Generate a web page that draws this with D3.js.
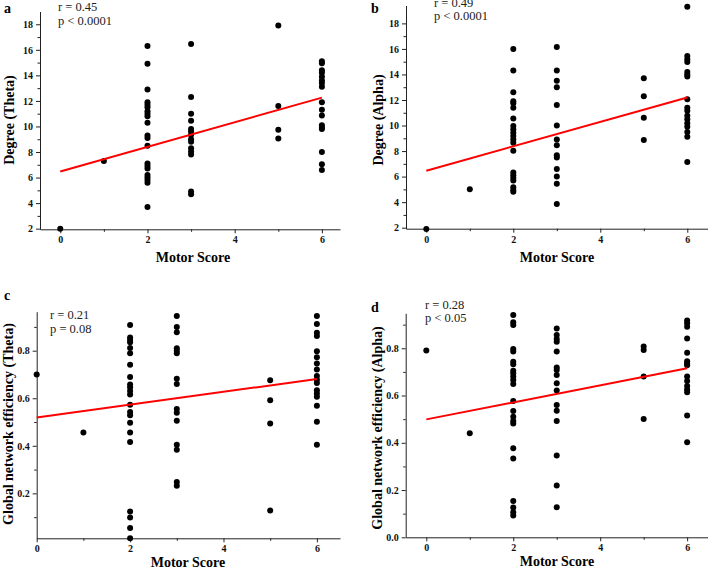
<!DOCTYPE html>
<html>
<head>
<meta charset="utf-8">
<script src="https://cdn.jsdelivr.net/npm/d3@7"></script>
<style>
  html, body { margin: 0; padding: 0; background: #fff; }
  svg { display: block; }
  .tick text { font-family: "Liberation Serif", "Times New Roman", serif; font-weight: bold; font-size: 10px; fill: #111; }
</style>
</head>
<body>
<svg id="chart" width="708" height="571"></svg>
<script>
// ---------- DATA ----------
const motorTicks = [0, 2, 4, 6];
const motorMinorTicks = [1, 3, 5];
const degreeTicks = [2, 4, 6, 8, 10, 12, 14, 16, 18];
const degreeMinorTicks = [3, 5, 7, 9, 11, 13, 15, 17];
const effTicksC = [0.2, 0.4, 0.6, 0.8];
const effTicksD = [0.0, 0.2, 0.4, 0.6, 0.8];
const effMinorTicks = [0.1, 0.3, 0.5, 0.7, 0.9];

// [motor score, value]
const degreeTheta = [
  [0, 2.0], [1, 7.3],
  [2, 16.3], [2, 14.9], [2, 12.9], [2, 11.9], [2, 11.7], [2, 11.5], [2, 11.2], [2, 11.0], [2, 10.8], [2, 10.3],
  [2, 9.3], [2, 9.1], [2, 8.5], [2, 7.1], [2, 6.9], [2, 6.7], [2, 6.2], [2, 6.0], [2, 5.8], [2, 5.6], [2, 3.7],
  [3, 16.45], [3, 12.3], [3, 11.0], [3, 10.45], [3, 9.8], [3, 9.6], [3, 9.35], [3, 9.0], [3, 8.8], [3, 8.3],
  [3, 8.05], [3, 7.8], [3, 4.9], [3, 4.7],
  [5, 17.9], [5, 11.6], [5, 9.75], [5, 9.05],
  [6, 15.1], [6, 14.95], [6, 14.4], [6, 14.2], [6, 13.9], [6, 13.6], [6, 13.4], [6, 13.1], [6, 11.9], [6, 11.3],
  [6, 10.85], [6, 10.1], [6, 9.9], [6, 9.8], [6, 8.0], [6, 7.05], [6, 6.6]
];
const degreeAlpha = [
  [0, 1.9], [1, 5.0],
  [2, 16.0], [2, 14.3], [2, 12.6], [2, 11.9], [2, 11.75], [2, 11.4], [2, 10.56], [2, 9.96], [2, 9.7], [2, 9.44],
  [2, 9.18], [2, 8.9], [2, 8.66], [2, 8.03], [2, 6.33], [2, 6.1], [2, 5.9], [2, 5.7], [2, 5.16], [2, 4.95], [2, 4.82],
  [3, 16.15], [3, 14.3], [3, 13.5], [3, 13.0], [3, 11.6], [3, 10.0], [3, 8.9], [3, 8.45], [3, 7.67], [3, 7.5],
  [3, 6.6], [3, 6.0], [3, 5.45], [3, 3.85],
  [5, 13.7], [5, 12.3], [5, 10.6], [5, 8.87],
  [6, 19.3], [6, 15.45], [6, 15.2], [6, 14.97], [6, 14.2], [6, 14.0], [6, 13.83], [6, 12.05], [6, 11.4], [6, 11.16],
  [6, 10.77], [6, 10.5], [6, 10.17], [6, 9.9], [6, 9.5], [6, 9.13], [6, 7.14]
];
const effTheta = [
  [0, 0.70], [1, 0.456],
  [2, 0.908], [2, 0.856], [2, 0.845], [2, 0.835], [2, 0.811], [2, 0.789], [2, 0.741], [2, 0.689], [2, 0.658],
  [2, 0.646], [2, 0.630], [2, 0.616], [2, 0.573], [2, 0.542], [2, 0.529], [2, 0.497], [2, 0.456], [2, 0.416],
  [2, 0.124], [2, 0.099], [2, 0.054], [2, 0.011],
  [3, 0.946], [3, 0.900], [3, 0.878], [3, 0.810], [3, 0.800], [3, 0.789], [3, 0.682], [3, 0.660], [3, 0.555],
  [3, 0.539], [3, 0.505], [3, 0.404], [3, 0.383], [3, 0.248], [3, 0.232],
  [5, 0.676], [5, 0.592], [5, 0.494], [5, 0.128],
  [6, 0.946], [6, 0.912], [6, 0.875], [6, 0.862], [6, 0.798], [6, 0.772], [6, 0.746], [6, 0.721], [6, 0.694],
  [6, 0.678], [6, 0.664], [6, 0.634], [6, 0.620], [6, 0.606], [6, 0.568], [6, 0.501], [6, 0.404]
];
const effAlpha = [
  [0, 0.791], [1, 0.44],
  [2, 0.941], [2, 0.910], [2, 0.898], [2, 0.797], [2, 0.786], [2, 0.743], [2, 0.732], [2, 0.705], [2, 0.694],
  [2, 0.680], [2, 0.666], [2, 0.649], [2, 0.577], [2, 0.535], [2, 0.510], [2, 0.492], [2, 0.482], [2, 0.377],
  [2, 0.333], [2, 0.154], [2, 0.126], [2, 0.106], [2, 0.092],
  [3, 0.884], [3, 0.856], [3, 0.839], [3, 0.828], [3, 0.786], [3, 0.719], [3, 0.708], [3, 0.687], [3, 0.652],
  [3, 0.621], [3, 0.560], [3, 0.536], [3, 0.492], [3, 0.346], [3, 0.219], [3, 0.127],
  [5, 0.807], [5, 0.793], [5, 0.680], [5, 0.501],
  [6, 0.917], [6, 0.906], [6, 0.891], [6, 0.841], [6, 0.781], [6, 0.745], [6, 0.736], [6, 0.728], [6, 0.681],
  [6, 0.661], [6, 0.640], [6, 0.626], [6, 0.614], [6, 0.515], [6, 0.402]
];

// regression line endpoints [motor score, fitted value]
const fitTheta = [[0, 6.47], [6, 12.26]];
const fitAlpha = [[0, 6.46], [6, 12.2]];
const fitEffTheta = [[0, 0.519], [6, 0.681]];
const fitEffAlpha = [[0, 0.499], [6, 0.715]];

const panels = [
  { letter: "a", yTitle: "Degree (Theta)", stats: ["r = 0.45", "p < 0.0001"], data: degreeTheta, fit: fitTheta,
    yTicks: degreeTicks, yMinor: degreeMinorTicks, yFmt: d3.format("d"),
    xDom: [-0.465, 6.415], xRange: [40, 340], yDom: [1.95, 19.0], yRange: [229.3, 11.5],
    letterPos: [4, 13], statPos: [58, 11, 25], yTitlePos: [13.5, 120], xTitlePos: [193, 262] },
  { letter: "b", yTitle: "Degree (Alpha)", stats: ["r = 0.49", "p < 0.0001"], data: degreeAlpha, fit: fitAlpha,
    yTicks: degreeTicks, yMinor: degreeMinorTicks, yFmt: d3.format("d"),
    xDom: [-0.467, 6.476], xRange: [406, 708], yDom: [1.92, 19.4], yRange: [228.7, 5.5],
    letterPos: [371, 13], statPos: [434, 7, 20], yTitlePos: [383, 120], xTitlePos: [557, 262] },
  { letter: "c", yTitle: "Global network efficiency (Theta)", stats: ["r = 0.21", "p = 0.08"], data: effTheta, fit: fitEffTheta,
    yTicks: effTicksC, yMinor: effMinorTicks, yFmt: d3.format(".1f"),
    xDom: [0, 6.495], xRange: [36.7, 340], yDom: [0.011, 0.964], yRange: [538.3, 311.7],
    letterPos: [4, 300], statPos: [50, 318.5, 333], yTitlePos: [13, 424], xTitlePos: [188, 567] },
  { letter: "d", yTitle: "Global network efficiency (Alpha)", stats: ["r = 0.28", "p < 0.05"], data: effAlpha, fit: fitEffAlpha,
    yTicks: effTicksD, yMinor: effMinorTicks, yFmt: d3.format(".1f"),
    xDom: [-0.474, 6.48], xRange: [405.7, 708], yDom: [0, 0.948], yRange: [537.3, 313.3],
    letterPos: [371, 312], statPos: [425, 308.5, 322], yTitlePos: [381.5, 428], xTitlePos: [557, 566] }
];

// ---------- DRAW ----------
const svg = d3.select("#chart");
const serif = '"Liberation Serif", "Times New Roman", serif';
const axisColor = "#222";

panels.forEach(p => {
  const x = d3.scaleLinear().domain(p.xDom).range(p.xRange);
  const y = d3.scaleLinear().domain(p.yDom).range(p.yRange);
  const g = svg.append("g");

  // x axis
  g.append("g").attr("transform", `translate(0,${p.yRange[0]})`)
    .call(d3.axisBottom(x).tickValues(motorTicks).tickSize(4).tickSizeOuter(0).tickPadding(3).tickFormat(d3.format("d")));
  g.append("g").attr("transform", `translate(0,${p.yRange[0]})`)
    .call(d3.axisBottom(x).tickValues(motorMinorTicks).tickSize(2.5).tickFormat(""))
    .call(s => s.select(".domain").remove());

  // y axis
  g.append("g").attr("transform", `translate(${p.xRange[0]},0)`)
    .call(d3.axisLeft(y).tickValues(p.yTicks).tickSize(4).tickSizeOuter(0).tickPadding(3).tickFormat(p.yFmt));
  g.append("g").attr("transform", `translate(${p.xRange[0]},0)`)
    .call(d3.axisLeft(y).tickValues(p.yMinor.filter(v => v >= p.yDom[0] && v <= p.yDom[1])).tickSize(2.5).tickFormat(""))
    .call(s => s.select(".domain").remove());

  g.selectAll(".domain, .tick line").attr("stroke", axisColor).attr("stroke-width", 1);

  // points
  g.append("g").selectAll("circle").data(p.data).join("circle")
    .attr("cx", d => x(d[0])).attr("cy", d => y(d[1])).attr("r", 3).attr("fill", "#000");

  // fit line
  g.append("line")
    .attr("x1", x(p.fit[0][0])).attr("y1", y(p.fit[0][1]))
    .attr("x2", x(p.fit[1][0])).attr("y2", y(p.fit[1][1]))
    .attr("stroke", "#ff0000").attr("stroke-width", 2);

  // panel letter
  svg.append("text").attr("x", p.letterPos[0]).attr("y", p.letterPos[1])
    .attr("font-family", serif).attr("font-weight", "bold").attr("font-size", 14).text(p.letter);

  // stats
  p.stats.forEach((s, i) => {
    svg.append("text").attr("x", p.statPos[0]).attr("y", p.statPos[1 + i])
      .attr("font-family", serif).attr("font-size", 12.5).attr("fill", "#222").text(s);
  });

  // y title
  svg.append("text")
    .attr("transform", `translate(${p.yTitlePos[0]},${p.yTitlePos[1]}) rotate(-90)`)
    .attr("text-anchor", "middle").attr("font-family", serif).attr("font-weight", "bold").attr("font-size", 14)
    .text(p.yTitle);

  // x title
  svg.append("text").attr("x", p.xTitlePos[0]).attr("y", p.xTitlePos[1])
    .attr("text-anchor", "middle").attr("font-family", serif).attr("font-weight", "bold").attr("font-size", 14)
    .text("Motor Score");
});
</script>
</body>
</html>
